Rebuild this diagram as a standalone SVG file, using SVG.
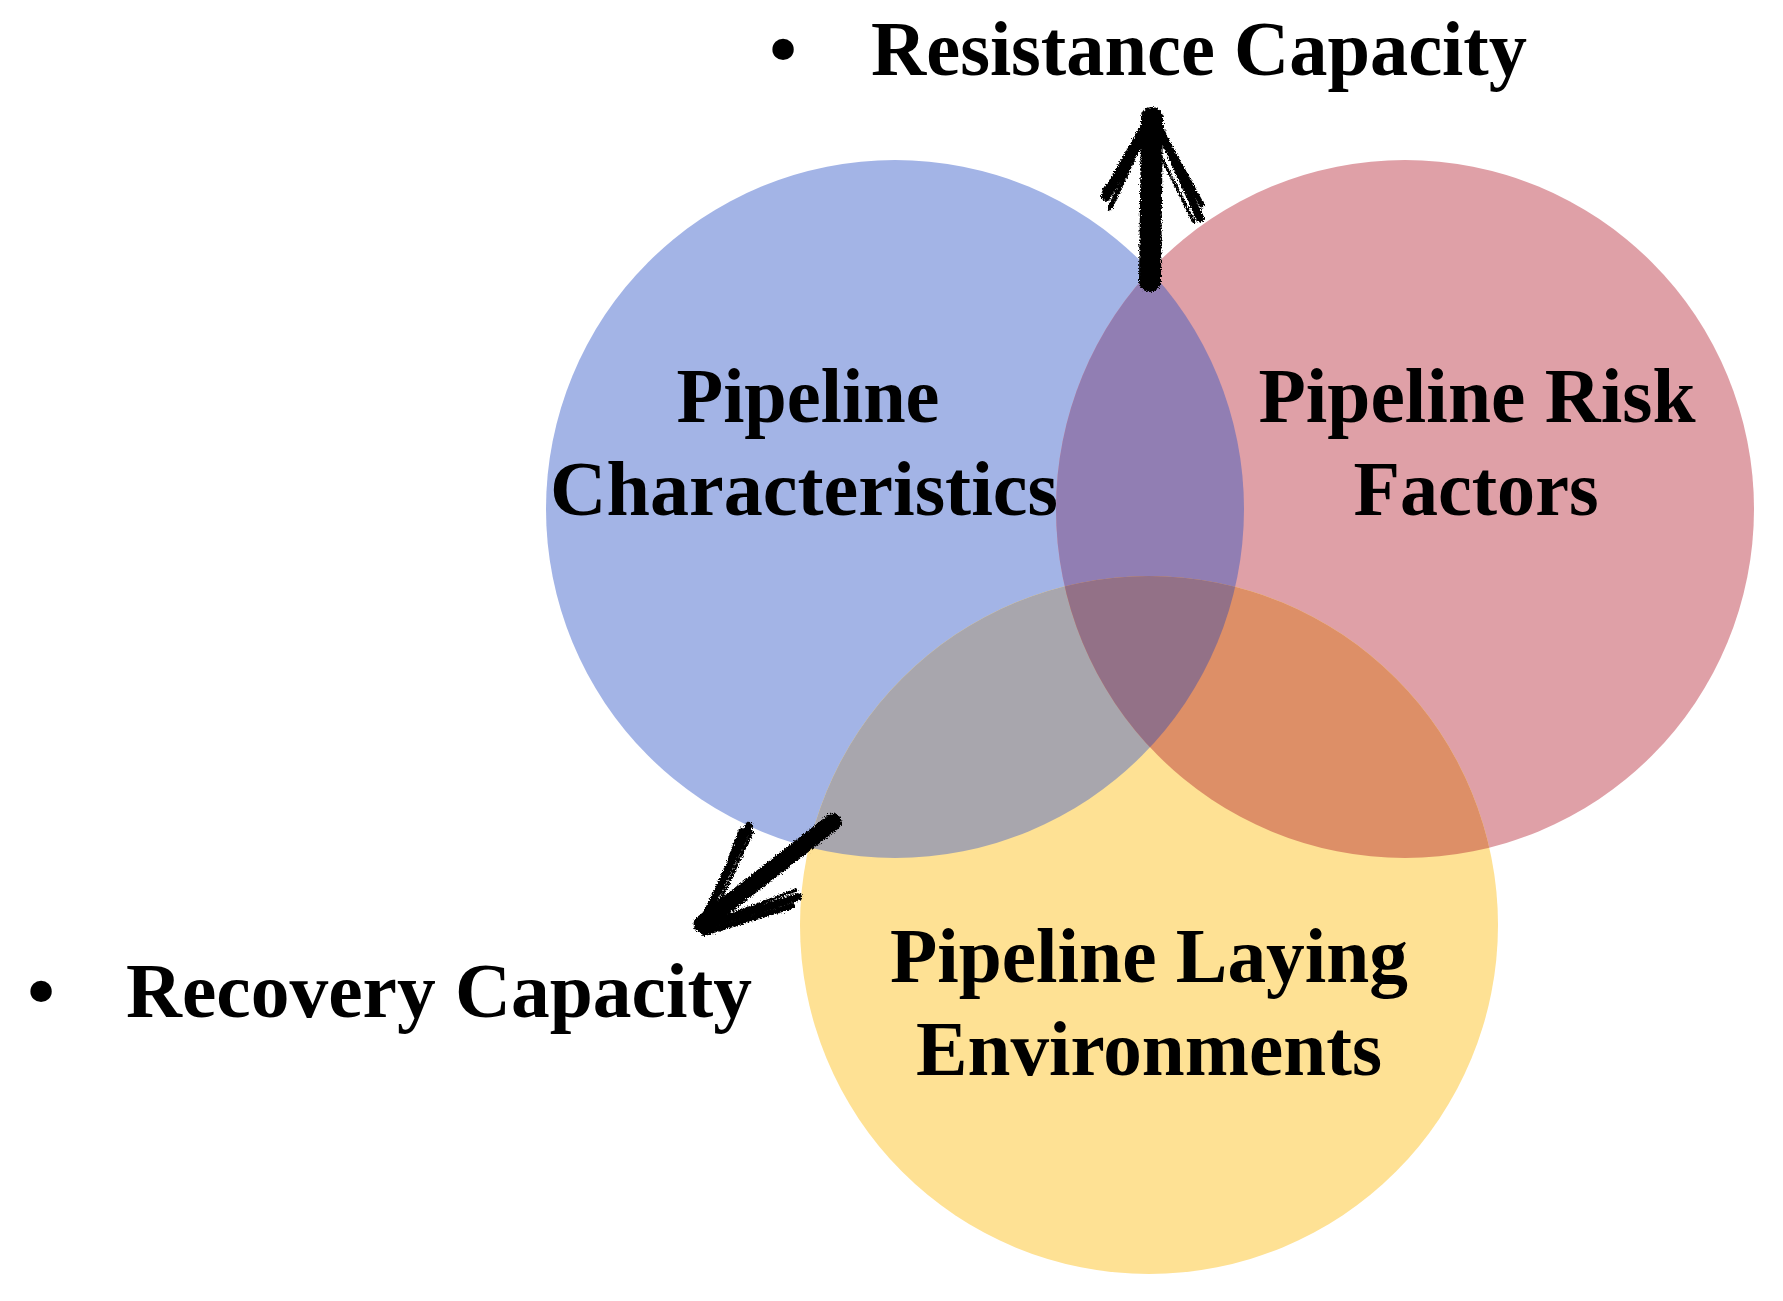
<svg xmlns="http://www.w3.org/2000/svg" width="1783" height="1301" viewBox="0 0 1783 1301">
<style>
.lbl{font-family:"Liberation Serif","Times New Roman",serif;font-weight:bold;font-size:79px;fill:#000}
.mid{text-anchor:middle}
.brush{fill:none;stroke:#000;stroke-linecap:round;stroke-linejoin:round}
</style>
<defs>
<clipPath id="cB"><circle cx="895" cy="509" r="349"/></clipPath>
<clipPath id="cP"><circle cx="1405" cy="509" r="349"/></clipPath>
<filter id="rough" x="-20%" y="-20%" width="140%" height="140%">
<feTurbulence type="fractalNoise" baseFrequency="0.7" numOctaves="2" seed="3" result="n"/>
<feDisplacementMap in="SourceGraphic" in2="n" scale="5" xChannelSelector="R" yChannelSelector="G"/>
</filter>
</defs>
<rect width="1783" height="1301" fill="#fff"/>
<g id="circles">
<g id="node-characteristics">
<circle cx="895" cy="509" r="349" fill="#A3B4E6"/>
</g>
<g id="node-risk">
<circle cx="1405" cy="509" r="349" fill="#DFA0A7"/>
</g>
<g id="node-environments">
<circle cx="1149" cy="925" r="349" fill="#FEE194"/>
</g>
<g id="overlaps">
<g clip-path="url(#cB)"><circle cx="1405" cy="509" r="349" fill="#917EB3"/></g>
<g clip-path="url(#cB)"><circle cx="1149" cy="925" r="349" fill="#A8A6AD"/></g>
<g clip-path="url(#cP)"><circle cx="1149" cy="925" r="349" fill="#DD8F67"/></g>
<g clip-path="url(#cB)"><g clip-path="url(#cP)"><circle cx="1149" cy="925" r="349" fill="#937187"/></g></g>
</g>
</g>
<g id="labels">
<text class="lbl mid" x="808" y="422" textLength="263" lengthAdjust="spacingAndGlyphs">Pipeline</text>
<text class="lbl mid" x="804" y="515" textLength="508" lengthAdjust="spacingAndGlyphs">Characteristics</text>
<text class="lbl mid" x="1477" y="422" textLength="437" lengthAdjust="spacingAndGlyphs">Pipeline Risk</text>
<text class="lbl mid" x="1476" y="515" textLength="245" lengthAdjust="spacingAndGlyphs">Factors</text>
<text class="lbl mid" x="1149" y="982" textLength="518" lengthAdjust="spacingAndGlyphs">Pipeline Laying</text>
<text class="lbl mid" x="1149" y="1075" textLength="466" lengthAdjust="spacingAndGlyphs">Environments</text>
</g>
<g id="outcomes">
<g id="resistance">
<text class="lbl mid" x="783" y="75">•</text>
<text class="lbl" x="871" y="75" textLength="656" lengthAdjust="spacingAndGlyphs">Resistance Capacity</text>
</g>
<g id="recovery">
<text class="lbl mid" x="41" y="1017">•</text>
<text class="lbl" x="126" y="1017" textLength="626" lengthAdjust="spacingAndGlyphs">Recovery Capacity</text>
</g>
</g>
<g id="connectors" filter="url(#rough)">
<g id="arrow-up">
<path class="brush" d="M1150 281 L1152 118" stroke-width="22"/>
<path class="brush" d="M1153 114 L1106 196" stroke-width="10"/>
<path class="brush" d="M1148 126 L1110 208" stroke-width="5"/>
<path class="brush" d="M1146 140 L1104 190" stroke-width="4"/>
<path class="brush" d="M1153 114 L1200 218" stroke-width="8"/>
<path class="brush" d="M1158 125 L1202 205" stroke-width="5"/>
<path class="brush" d="M1150 135 L1194 222" stroke-width="3"/>
</g>
<g id="arrow-down-left">
<path class="brush" d="M833 822 L702 924" stroke-width="17"/>
<path class="brush" d="M700 928 L749 826" stroke-width="8"/>
<path class="brush" d="M706 926 L741 830" stroke-width="5"/>
<path class="brush" d="M712 918 L752 832" stroke-width="3"/>
<path class="brush" d="M700 928 L798 897" stroke-width="8"/>
<path class="brush" d="M704 933 L792 906" stroke-width="6"/>
<path class="brush" d="M712 922 L796 890" stroke-width="3"/>
</g>
</g>
</svg>
